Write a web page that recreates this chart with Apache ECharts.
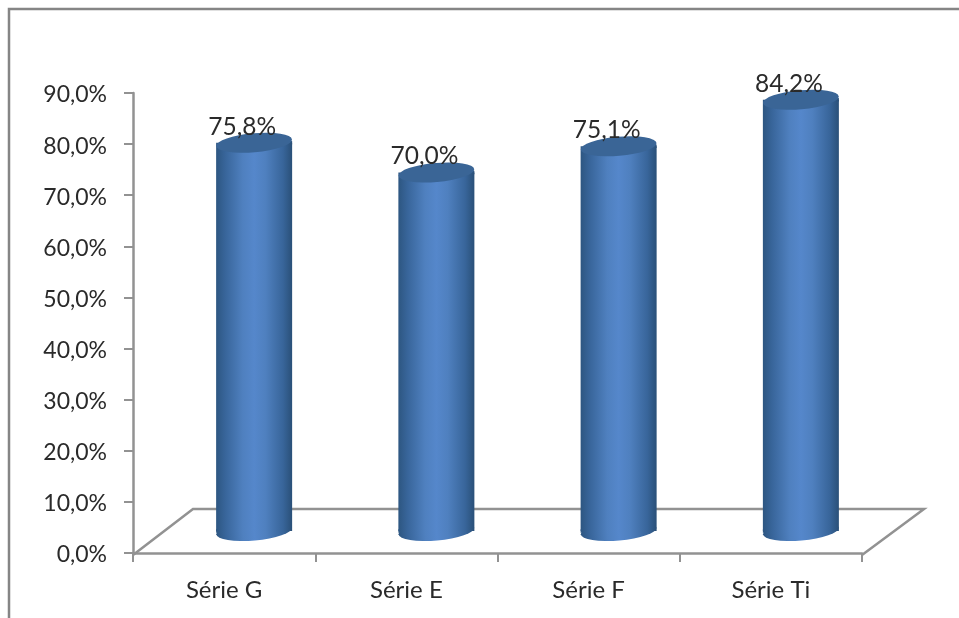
<!DOCTYPE html>
<html><head><meta charset="utf-8">
<style>html,body{margin:0;padding:0;background:#fff}#c{width:959px;height:618px;filter:blur(0.4px)}</style>
<script src="https://cdn.jsdelivr.net/npm/echarts@6/dist/echarts.min.js"></script>
</head><body><div id="c"></div>
<script>
const categories = ['Série G', 'Série E', 'Série F', 'Série Ti'];
const values = [75.8, 70.0, 75.1, 84.2];

const fmt = v => v.toFixed(1).replace('.', ',') + '%';
const FONT = 'Lato';
const GREY = '#929292';
const bodyGrad = {
  type: 'linear', x: 0, y: 0, x2: 1, y2: 0,
  colorStops: [
    {offset: 0, color: '#2d5681'},
    {offset: 0.12, color: '#38659a'},
    {offset: 0.35, color: '#4f80bf'},
    {offset: 0.5, color: '#5587cb'},
    {offset: 0.65, color: '#4f80bf'},
    {offset: 0.88, color: '#38659a'},
    {offset: 1, color: '#2a5078'}
  ]
};
const BAR_W = 76, ELL_H = 19, ROT = 5, WEDGE_H = 3.4;
const wedgeBottom = 'path://M0 0L76 0L38 0L0 4Z';
const wedgeTop = 'path://M0 4L38 4L76 0L76 4Z';

const chart = echarts.init(document.getElementById('c'), null, {renderer: 'canvas'});
chart.setOption({
  animation: false,
  backgroundColor: '#fff',
  grid: [
    {left: 133, top: 93, width: 729, height: 460},
    {left: 163, top: 70, width: 729, height: 461}
  ],
  xAxis: [
    {type: 'category', gridIndex: 0, data: categories, boundaryGap: true, offset: 2,
     axisLine: {lineStyle: {color: GREY, width: 2.5}},
     axisTick: {show: true, length: 9, alignWithLabel: false, lineStyle: {color: GREY, width: 2}},
     axisLabel: {color: '#2a2a2a', fontFamily: FONT, fontSize: 24, margin: 23}},
    {type: 'category', gridIndex: 1, data: categories, show: false}
  ],
  yAxis: [
    {type: 'value', gridIndex: 0, min: 0, max: 90, interval: 10,
     axisLine: {show: true, lineStyle: {color: GREY, width: 2.5}},
     axisTick: {show: true, length: 9, lineStyle: {color: GREY, width: 2}},
     splitLine: {show: false},
     axisLabel: {color: '#2a2a2a', fontFamily: FONT, fontSize: 23, margin: 26,
       formatter: v => '{v|' + fmt(v) + '}',
       rich: {v: {fontFamily: FONT, fontSize: 23, color: '#2a2a2a', padding: [4, 0, 0, 0]}}}},
    {type: 'value', gridIndex: 1, min: 0, max: 90, interval: 10, show: false}
  ],
  graphic: [
    {type: 'polyline', z: 0, silent: true,
     shape: {points: [[133, 555], [193, 509], [924, 509], [862, 555]]},
     style: {stroke: GREY, lineWidth: 2.5, fill: null}},
    {type: 'polyline', z: 0, silent: true,
     shape: {points: [[9, 618], [9, 9], [959, 9]]},
     style: {stroke: '#858585', lineWidth: 2.5, fill: null}}
  ],
  series: [
    {type: 'pictorialBar', xAxisIndex: 1, yAxisIndex: 1, z: 2,
     symbol: 'circle', symbolSize: [BAR_W, ELL_H], symbolRotate: ROT,
     symbolPosition: 'start', symbolOffset: [0, '50%'],
     itemStyle: {color: bodyGrad}, data: values, silent: true},
    {type: 'bar', xAxisIndex: 1, yAxisIndex: 1, z: 3, barWidth: BAR_W,
     itemStyle: {color: bodyGrad}, data: values, silent: true},
    {type: 'pictorialBar', xAxisIndex: 1, yAxisIndex: 1, z: 3,
     symbol: wedgeBottom, symbolSize: [BAR_W, WEDGE_H],
     symbolPosition: 'start', symbolOffset: [0, '50%'],
     itemStyle: {color: bodyGrad}, data: values, silent: true},
    {type: 'pictorialBar', xAxisIndex: 1, yAxisIndex: 1, z: 3,
     symbol: wedgeTop, symbolSize: [BAR_W, WEDGE_H],
     symbolPosition: 'end', symbolOffset: [0, '-50%'],
     itemStyle: {color: bodyGrad}, data: values, silent: true},
    {type: 'pictorialBar', xAxisIndex: 1, yAxisIndex: 1, z: 4,
     symbol: 'circle', symbolSize: [BAR_W, ELL_H], symbolRotate: ROT,
     symbolPosition: 'end', symbolOffset: [0, '-50%'],
     itemStyle: {color: '#3a6596'}, data: values, silent: true,
     label: {show: true, position: 'top', distance: -6, offset: [-12, 0],
       color: '#2a2a2a', fontFamily: FONT, fontSize: 24.5,
       formatter: p => fmt(p.value)}}
  ]
});
</script></body></html>
